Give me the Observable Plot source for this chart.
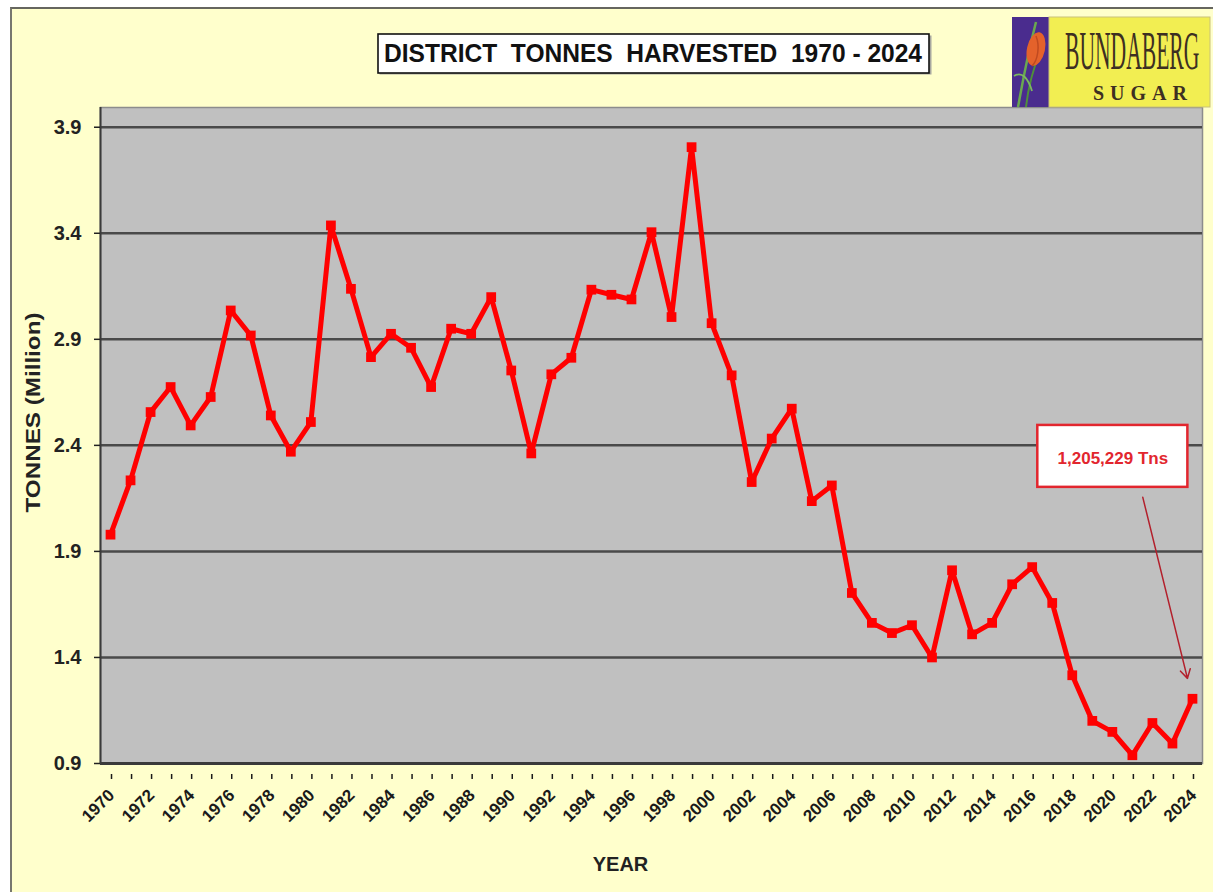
<!DOCTYPE html>
<html>
<head>
<meta charset="utf-8">
<script src="https://cdn.jsdelivr.net/npm/d3@7"></script>
<script src="https://cdn.jsdelivr.net/npm/@observablehq/plot@0.6"></script>
<style>
  html, body { margin: 0; padding: 0; background: #ffffff; width: 1213px; height: 892px; overflow: hidden;
    font-family: "Liberation Sans", Arial, sans-serif; }
  #panel { position: absolute; left: 10px; top: 7px; width: 1215px; height: 900px; background: #ffffcc;
    border-left: 2px solid #77776f; border-top: 2px solid #66665f; }
  #chart { position: absolute; left: 0; top: 0; }
  #title { position: absolute; left: 377px; top: 33px; }
  #logo { position: absolute; left: 1012px; top: 16px; }
</style>
</head>
<body>
<div id="panel"></div>
<div id="chart"></div>
<svg id="title" width="556" height="43" xmlns="http://www.w3.org/2000/svg">
  <rect x="2.5" y="2.5" width="552" height="39" fill="#a8a8a0"/>
  <rect x="1" y="1" width="551" height="39" fill="#ffffff" stroke="#111" stroke-width="1.6"/>
  <text x="276" y="29" text-anchor="middle" font-family="Liberation Sans, Arial, sans-serif" font-weight="bold"
        font-size="25" fill="#111" textLength="538" lengthAdjust="spacingAndGlyphs" xml:space="preserve">DISTRICT  TONNES  HARVESTED  1970 - 2024</text>
</svg>
<svg id="logo" width="200" height="92" xmlns="http://www.w3.org/2000/svg">
  <rect x="0" y="1" width="37" height="90" fill="#4a2c8e"/>
  <path d="M6 91 C 10 70, 14 45, 24 6" stroke="#6aa84f" stroke-width="2.5" fill="none"/>
  <path d="M14 91 C 16 72, 20 55, 30 30" stroke="#4f8f3a" stroke-width="2" fill="none"/>
  <path d="M2 60 C 10 55, 16 62, 20 75" stroke="#7bb85e" stroke-width="1.8" fill="none"/>
  <ellipse cx="24" cy="33" rx="9" ry="17" fill="#e4622b" transform="rotate(12 24 33)"/>
  <path d="M24 20 C 28 30, 26 44, 20 50" stroke="#c04a20" stroke-width="1.5" fill="none"/>
  <rect x="37" y="1" width="161" height="90" fill="#f2ee52" stroke="#c9c27a" stroke-width="1"/>
  <text transform="translate(53,53) scale(0.4,1)" font-family="Liberation Serif, DejaVu Serif, serif" font-size="54" fill="#3d2f22">BUNDABERG</text>
  <text x="81" y="84" font-family="Liberation Serif, DejaVu Serif, serif" font-weight="bold" font-size="20" fill="#3d2f22"
        letter-spacing="6">SUGAR</text>
</svg>
<script>
// ---- data ----
const years = [1970, 1971, 1972, 1973, 1974, 1975, 1976, 1977, 1978, 1979,
               1980, 1981, 1982, 1983, 1984, 1985, 1986, 1987, 1988, 1989,
               1990, 1991, 1992, 1993, 1994, 1995, 1996, 1997, 1998, 1999,
               2000, 2001, 2002, 2003, 2004, 2005, 2006, 2007, 2008, 2009,
               2010, 2011, 2012, 2013, 2014, 2015, 2016, 2017, 2018, 2019,
               2020, 2021, 2022, 2023, 2024];
const tonnesMillion = [1.979, 2.235, 2.557, 2.675, 2.494, 2.628, 3.036, 2.918, 2.541, 2.37,
                       2.51, 3.437, 3.138, 2.816, 2.926, 2.86, 2.675, 2.95, 2.926, 3.099,
                       2.753, 2.362, 2.735, 2.813, 3.134, 3.11, 3.088, 3.405, 3.005, 3.806,
                       2.976, 2.73, 2.227, 2.432, 2.573, 2.137, 2.211, 1.704, 1.563, 1.515,
                       1.552, 1.4, 1.811, 1.509, 1.563, 1.745, 1.826, 1.657, 1.316, 1.101,
                       1.049, 0.939, 1.091, 0.994, 1.205229];
const yTicks = [0.9, 1.4, 1.9, 2.4, 2.9, 3.4, 3.9];
const yLabel = "TONNES (Million)";
const xLabel = "YEAR";
// annotation box / arrow anchor (data units)
const annotation = { x1: 2016.28, x2: 2023.77, y1: 2.202, y2: 2.494, textY: 2.339,
                     arrowX: 2021.52, arrowY: 2.155 };

const data = years.map((year, i) => ({ year, value: tonnesMillion[i] }));
const last = data[data.length - 1];
const annotationText = d3.format(",")(Math.round(last.value * 1e6)) + " Tns";

const chart = Plot.plot({
  width: 1213,
  height: 892,
  marginLeft: 100,
  marginRight: 11,
  marginTop: 107,
  marginBottom: 129,
  style: { background: "transparent", fontFamily: "Liberation Sans, Arial, sans-serif", fontWeight: "bold", overflow: "visible" },
  x: { type: "linear", domain: [1969.5, 2024.5] },
  y: { domain: [0.9, 3.993] },
  marks: [
    Plot.frame({ fill: "#c0c0c0", stroke: "#8c8c8c", strokeWidth: 1.5 }),
    Plot.ruleY(yTicks, { stroke: "#4a4a4a", strokeWidth: 2.5 }),
    Plot.ruleX([1969.5], { stroke: "#3a3a3a", strokeWidth: 2 }),
    Plot.ruleY([0.9], { stroke: "#3a3a3a", strokeWidth: 3 }),
    Plot.axisY({ ticks: yTicks, tickFormat: d3.format(".1f"), tickSize: 6, tickPadding: 13,
                 fontSize: 20, fontWeight: "bold", color: "#222", strokeWidth: 1.5, label: null }),
    Plot.axisX({ ticks: years, tickFormat: d => d % 2 === 0 ? String(d) : "", tickRotate: -45,
                 tickSize: 5, tickPadding: 13, fontSize: 17, fontWeight: "bold", color: "#1a1a1a",
                 strokeWidth: 1.5, label: null, dy: 11, dx: 1 }),
    Plot.line(data, { x: "year", y: "value", stroke: "#ff0000", strokeWidth: 5, strokeLinejoin: "miter" }),
    Plot.dot(data, { x: "year", y: "value", symbol: "square", r: 5.5, fill: "#ff0000", stroke: "none" }),
    Plot.rect([annotation], { x1: "x1", x2: "x2", y1: "y1", y2: "y2", fill: "#ffffff", stroke: "#e2262e", strokeWidth: 2.5 }),
    Plot.text([annotation], { x: d => (d.x1 + d.x2) / 2, y: "textY", text: () => annotationText,
                 fill: "#e2262e", fontSize: 17, fontWeight: "bold", textAnchor: "middle", lineAnchor: "middle" }),
    Plot.arrow([last], { x1: () => annotation.arrowX, y1: () => annotation.arrowY, x2: "year", y2: "value",
                 stroke: "#b3202c", strokeWidth: 1.5, headLength: 10, insetEnd: 21 }),
    Plot.text([yLabel], { frameAnchor: "left", text: d => d, rotate: -90, dx: -67, dy: -23,
                 fontSize: 20, fontWeight: "bold", fill: "#222", textAnchor: "middle", lineAnchor: "middle" }),
    Plot.text([xLabel], { frameAnchor: "bottom", text: d => d, dx: -31, dy: 101,
                 fontSize: 20, fontWeight: "bold", fill: "#222", textAnchor: "middle", lineAnchor: "middle" })
  ]
});
chart.querySelectorAll("text").forEach(t => {
  if (t.textContent === yLabel) { t.setAttribute("textLength", "200"); t.setAttribute("lengthAdjust", "spacingAndGlyphs"); }
});
document.getElementById("chart").appendChild(chart);
</script>
</body>
</html>
